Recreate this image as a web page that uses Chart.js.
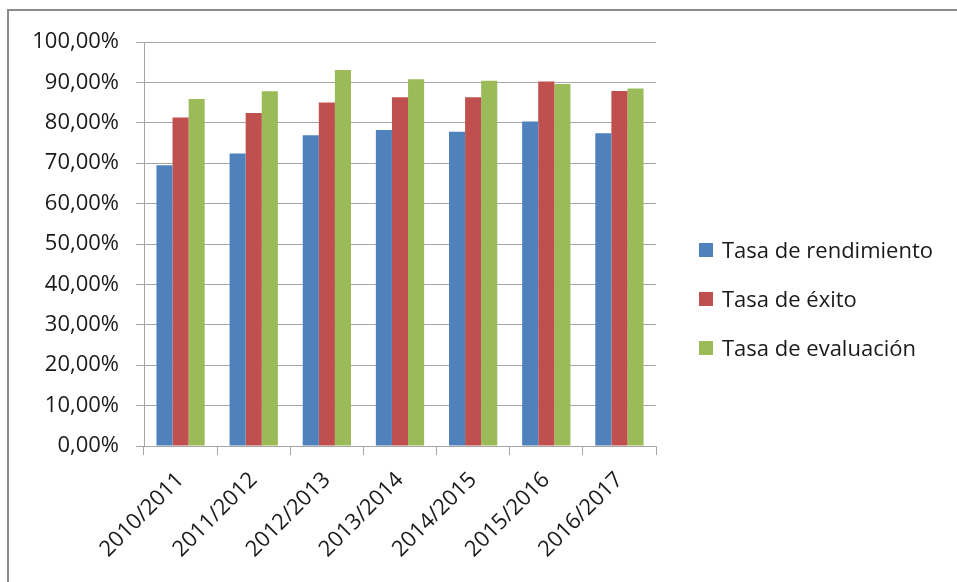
<!DOCTYPE html>
<html>
<head>
<meta charset="utf-8">
<script src="https://cdn.jsdelivr.net/npm/chart.js@4/dist/chart.umd.min.js"></script>
<style>
  html, body { margin: 0; padding: 0; background: #fff; }
  #frame {
    position: absolute; left: 7px; top: 9px; width: 950px; height: 573px;
    border-left: 2px solid #8c8c8c; border-top: 2px solid #8c8c8c;
  }
  #wrap { position: absolute; left: 0; top: 0; width: 948px; height: 571px; }
  #legend { position: absolute; left: 690px; top: 0; font: 22px 'Open Sans', 'Liberation Sans', sans-serif; color: #1a1a1a; }
  .item { position: absolute; white-space: nowrap; line-height: 30px; height: 30px; }
  .item span.box { position: absolute; left: 0; top: 8px; width: 14px; height: 14px; }
  .item span.txt { position: absolute; left: 23px; top: -1px; }
</style>
</head>
<body>
<div id="frame"><div id="wrap"><canvas id="myChart"></canvas></div><div id="legend"></div></div>
<script>
const categories = ['2010/2011', '2011/2012', '2012/2013', '2013/2014', '2014/2015', '2015/2016', '2016/2017'];
const seriesNames = ['Tasa de rendimiento', 'Tasa de éxito', 'Tasa de evaluación'];
const rendimiento = [69.5, 72.4, 76.9, 78.2, 77.8, 80.3, 77.4];
const exito = [81.3, 82.4, 85.0, 86.3, 86.3, 90.2, 87.9];
const evaluacion = [85.9, 87.8, 93.1, 90.8, 90.4, 89.6, 88.5];
const yTickLabels = ['0,00%', '10,00%', '20,00%', '30,00%', '40,00%', '50,00%',
                     '60,00%', '70,00%', '80,00%', '90,00%', '100,00%'];
const colors = ['#4F81BD', '#C0504D', '#9BBB59'];

const font = { family: "'Open Sans', 'Liberation Sans', sans-serif", size: 22 };
const gridColor = '#a6a6a6';

const myChart = new Chart('myChart', {
  type: 'bar',
  data: {
    labels: categories,
    datasets: [
      { label: seriesNames[0], data: rendimiento, backgroundColor: colors[0] },
      { label: seriesNames[1], data: exito, backgroundColor: colors[1] },
      { label: seriesNames[2], data: evaluacion, backgroundColor: colors[2] }
    ]
  },
  options: {
    responsive: true,
    maintainAspectRatio: false,
    animation: false,
    datasets: { bar: { categoryPercentage: 0.66, barPercentage: 1 } },
    layout: { padding: { top: 31, right: 301, bottom: 25, left: 0 } },
    plugins: {
      tooltip: { enabled: false },
      legend: { display: false }
    },
    scales: {
      x: {
        grid: { drawOnChartArea: false, drawTicks: true, tickLength: 9, color: gridColor },
        border: { color: gridColor },
        ticks: { font: font, color: '#1a1a1a', minRotation: 45, maxRotation: 45, autoSkip: false, padding: 12 },
        afterFit: s => { s.height = 111; }
      },
      y: {
        min: 0,
        max: 100,
        grid: { color: gridColor, tickLength: 8 },
        border: { color: gridColor },
        ticks: {
          font: font, color: '#1a1a1a', stepSize: 10, padding: 17,
          callback: v => yTickLabels[Math.round(v / 10)]
        },
        afterFit: s => { s.width = 135; }
      }
    }
  }
});

// legend as html, built from the dataset names and colours
const legend = document.getElementById('legend');
const legendTops = [224, 273, 322];
myChart.data.datasets.forEach((ds, i) => {
  const item = document.createElement('div');
  item.className = 'item';
  item.style.top = legendTops[i] + 'px';
  item.innerHTML = '<span class="box" style="background:' + ds.backgroundColor + '"></span><span class="txt">' + ds.label + '</span>';
  legend.appendChild(item);
});
</script>
</body>
</html>
